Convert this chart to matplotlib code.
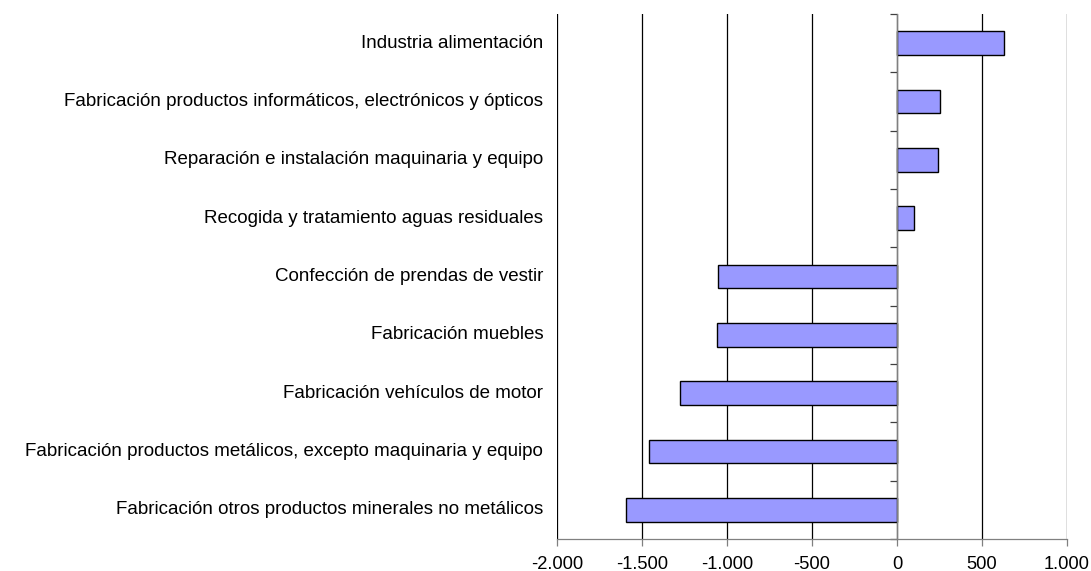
import matplotlib
matplotlib.use("Agg")
import matplotlib.pyplot as plt
import matplotlib.transforms as mtransforms
from matplotlib.ticker import FuncFormatter, MultipleLocator

categories = [
    "Industria alimentación",
    "Fabricación productos informáticos, electrónicos y ópticos",
    "Reparación e instalación maquinaria y equipo",
    "Recogida y tratamiento aguas residuales",
    "Confección de prendas de vestir",
    "Fabricación muebles",
    "Fabricación vehículos de motor",
    "Fabricación productos metálicos, excepto maquinaria y equipo",
    "Fabricación otros productos minerales no metálicos",
]
values = [629, 250, 241, 102, -1051, -1060, -1278, -1460, -1593]

plt.rcParams['font.family'] = ['Liberation Sans', 'DejaVu Sans']

fig = plt.figure(figsize=(10.91, 5.71), dpi=100)
ax = fig.add_axes([557/1091, 1 - 539/571, (1067-557)/1091, (539-14)/571])

n = len(categories)
ypos = list(range(n))
ax.barh(ypos, values, height=0.41, color='#9999FF', edgecolor='black', linewidth=1.0, zorder=3)

ax.set_xlim(-2000, 1000)
ax.set_ylim(n - 0.5, -0.5)
ax.xaxis.set_major_locator(MultipleLocator(500))
ax.xaxis.set_major_formatter(FuncFormatter(lambda v, p: f"{int(v):,}".replace(",", ".")))
ax.grid(axis='x', color='black', linewidth=0.9, zorder=0)
ax.tick_params(axis='x', direction='out', length=5, width=0.9, color='#808080', labelsize=13.2, pad=7)

for s in ['top', 'right']:
    ax.spines[s].set_visible(False)
ax.spines['bottom'].set_color('#808080')
ax.spines['bottom'].set_linewidth(0.9)
ax.spines['left'].set_position(('data', 0))
ax.spines['left'].set_color('#808080')
ax.spines['left'].set_linewidth(0.9)
ax.spines['left'].set_zorder(4)

ax.set_yticks([i + 0.5 for i in range(-1, n)])
ax.set_yticklabels([])
ax.tick_params(axis='y', direction='out', length=5, width=0.9, color='#404040')

trans = mtransforms.blended_transform_factory(ax.transAxes, ax.transData)
for i, c in enumerate(categories):
    ax.text(-0.027, i, c, transform=trans, ha='right', va='center', fontsize=13.5)

fig.savefig("out.png", dpi=100, facecolor='white')
